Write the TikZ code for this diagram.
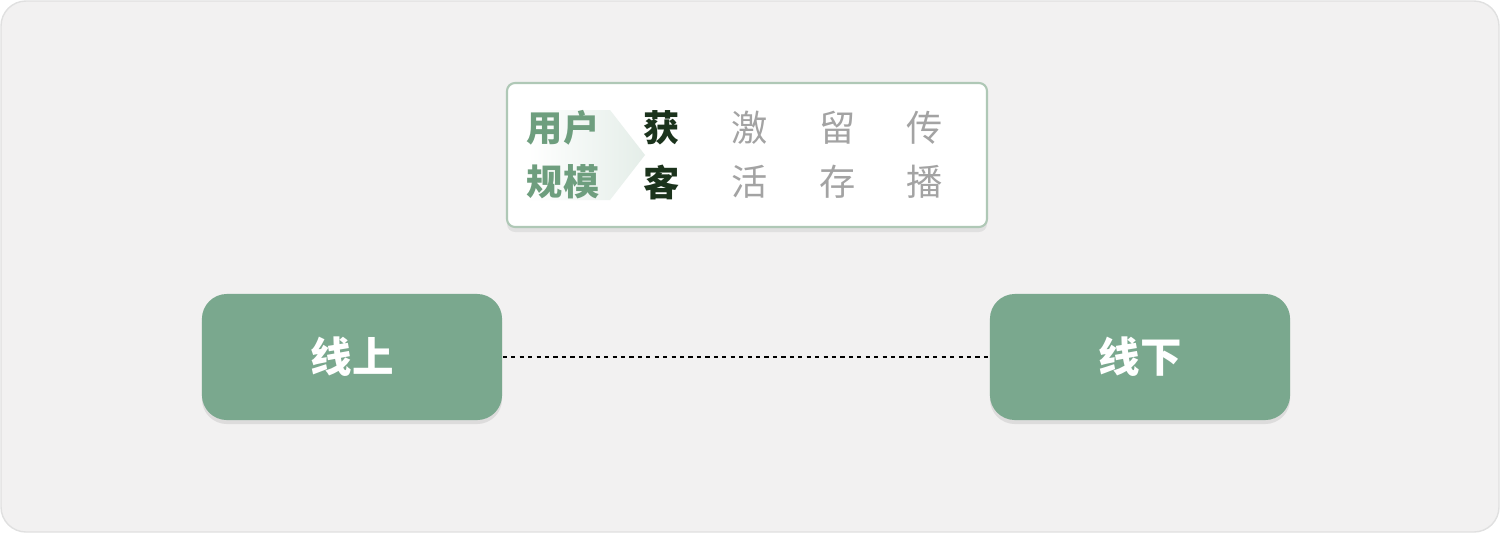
\documentclass[tikz,border=0pt]{standalone}
\usepackage{fontspec}
\newfontfamily\cjk{Noto Sans CJK SC}
\usetikzlibrary{shadows}
\definecolor{bgcolor}{HTML}{F2F1F1}
\definecolor{boxgreen}{HTML}{7AA88E}
\definecolor{labelgreen}{HTML}{6E9E7E}
\definecolor{darkgreen}{HTML}{1B331C}
\definecolor{stepgray}{HTML}{A3A3A3}
\definecolor{cardedge}{HTML}{AFC8B6}
\begin{document}
\begin{tikzpicture}[x=0.01cm,y=-0.01cm]
            \tikzstyle{frame}=[draw=black!12,fill=bgcolor,rounded corners=0.25cm]
            \tikzstyle{card}=[draw=cardedge,fill=white,rounded corners=0.08cm,line width=0.6pt,
                drop shadow={shadow xshift=0pt,shadow yshift=-0.05cm,opacity=0.12,fill=black!60}]
            \tikzstyle{channel}=[fill=boxgreen,rounded corners=0.25cm,minimum width=3cm,minimum height=1.26cm,
                inner sep=0,font=\cjk\bfseries\fontsize{11.8}{13}\selectfont,text=white,
                drop shadow={shadow xshift=0pt,shadow yshift=-0.04cm,opacity=0.15,fill=black!60}]
            \tikzstyle{scale label}=[font=\cjk\bfseries\fontsize{10.3}{12}\selectfont,text=labelgreen,inner sep=0]
            \tikzstyle{active step}=[font=\cjk\bfseries\fontsize{10.3}{12}\selectfont,text=darkgreen,inner sep=0]
            \tikzstyle{step word}=[font=\cjk\fontsize{10.3}{12}\selectfont,text=stepgray,inner sep=0]

            \useasboundingbox (0,0) rectangle (1500,533);
            \path[frame] (1,1) rectangle (1499,532);

            % funnel card
            \path[card] (507,83) rectangle (987,227);
            \shade[left color=white,right color=boxgreen!20]
                (527,110) -- (610,110) -- (645,155) -- (610,200) -- (527,200) -- cycle;

            \node(user)[scale label] at (563,128) {用户};
            \node(scale)[scale label] at (563,182) {规模};
            \node(get1)[active step] at (662,128) {获};
            \node(get2)[active step] at (662,182) {客};
            \node(act1)[step word] at (750,128) {激};
            \node(act2)[step word] at (750,182) {活};
            \node(keep1)[step word] at (838,128) {留};
            \node(keep2)[step word] at (838,182) {存};
            \node(share1)[step word] at (925,128) {传};
            \node(share2)[step word] at (925,182) {播};

            % channels
            \node(online)[channel] at (352,357) {线上};
            \node(offline)[channel] at (1140,357) {线下};
            \draw[dash pattern=on 1.2pt off 1.2pt,line width=0.6pt] (online.east) -- (offline.west);
\end{tikzpicture}
\end{document}
